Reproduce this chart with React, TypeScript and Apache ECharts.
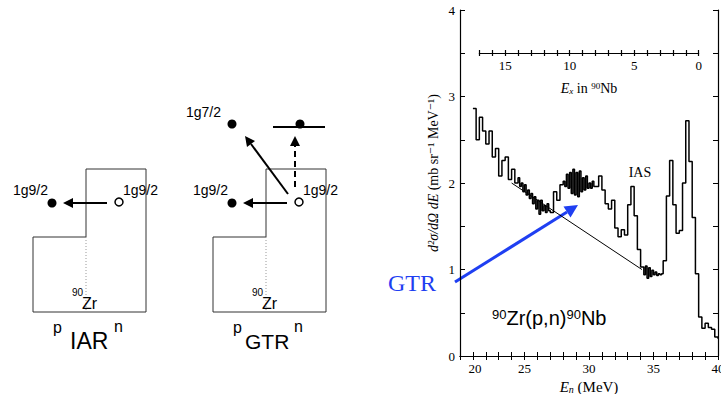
import React, { useEffect, useRef } from "react";
import * as echarts from "echarts";

// ---- data (step histogram, value held from each bin edge to the next) ----
const enBins = [
  21.0, 21.25, 21.5, 21.75, 22.0, 22.25, 22.5, 22.75, 23.0, 23.25, 23.5, 23.75,
  24.0, 24.25, 24.5, 24.625, 24.75, 24.875, 25.0, 25.125, 25.25, 25.375, 25.5, 25.625,
  25.75, 25.875, 26.0, 26.125, 26.25, 26.375, 26.5, 26.625, 26.75, 26.875,
  27.0, 27.25, 27.5, 27.75, 28.0, 28.125, 28.25, 28.375, 28.5, 28.625, 28.75, 28.875,
  29.0, 29.125, 29.25, 29.375, 29.5, 29.625, 29.75, 29.875, 30.0, 30.125, 30.25, 30.375,
  30.5, 30.75, 31.0, 31.25, 31.5, 31.75, 32.0, 32.25, 32.5, 32.75,
  33.0, 33.25, 33.5, 33.75, 34.0, 34.25, 34.375, 34.5, 34.625, 34.75, 34.875,
  35.0, 35.125, 35.25, 35.375, 35.5, 35.625, 35.75,
  36.0, 36.25, 36.5, 36.75, 37.0, 37.25, 37.5, 37.75, 38.0, 38.25, 38.5, 38.75,
  39.0, 39.25, 39.5, 39.75, 40.0,
];
const crossSection = [
  2.86, 2.5, 2.76, 2.6, 2.45, 2.6, 2.3, 2.4, 2.08, 2.26, 2.3, 2.04,
  2.16, 2.0, 2.06, 1.96, 2.0, 1.9, 1.98, 1.86, 1.92, 1.82, 1.88, 1.76,
  1.84, 1.7, 1.8, 1.64, 1.8, 1.68, 1.74, 1.66, 1.76, 1.68,
  1.66, 1.9, 1.8, 1.98, 2.02, 1.96, 2.1, 1.94, 2.12, 1.88, 2.16, 1.86,
  2.12, 1.84, 2.14, 1.9, 2.06, 1.92, 2.08, 1.94, 2.0, 1.94, 2.02, 1.96,
  1.96, 2.08, 1.92, 1.76, 1.7, 1.8, 1.48, 1.38, 1.46, 1.4,
  1.75, 1.96, 1.62, 1.23, 1.03, 0.94, 1.04, 0.9, 1.02, 0.92, 0.99,
  0.94, 0.97, 0.93, 0.95, 0.94, 0.95, 1.1,
  1.85, 2.26, 1.75, 1.42, 1.45, 2.0, 2.72, 2.25, 1.6, 0.95, 0.45, 0.32,
  0.38, 0.33, 0.31, 0.22, 0.2,
];
const bgLineEn = [24.0, 34.1];
const bgLineY = [2.0, 1.0];
const xTickLabels = [20, 25, 30, 35, 40];
const xTicks = [20, 21, 22, 23, 24, 25, 26, 27, 28, 29, 30, 31, 32, 33, 34, 35, 36, 37, 38, 39, 40];
const yTickLabels = [0, 1, 2, 3, 4];
const exTickLabels = [0, 5, 10, 15];
const exTicks = [0, 1, 2, 3, 4, 5, 6, 7, 8, 9, 10, 11, 12, 13, 14, 15, 16, 17];
const EX_ZERO_EN = 38.5; // En at which Ex(90Nb) = 0
const iasMark = [33.95, 2.12];

// ---- layout ----
const GRID_LEFT = 460;
const GRID_TOP = 10;
const GRID_W = 258;
const GRID_H = 346;
const EN_MIN = 20;
const EN_MAX = 40;
const EX_MAX = 17;
const EX_AXIS_Y = 53;

const SERIF = "'Liberation Serif', 'DejaVu Serif', serif";
const SANS = "'Liberation Sans', Arial, sans-serif";
const BLUE = "#1f3ff2";

function t(x: number, y: number, text: string, size: number, extra: any = {}) {
  return {
    type: "text",
    x,
    y,
    silent: true,
    style: {
      text,
      fontSize: size,
      fontFamily: SANS,
      fill: "#000",
      align: "left",
      verticalAlign: "middle",
      textAlign: "left",
      textVerticalAlign: "middle",
      ...extra,
    },
  };
}

function diagram(ox: number, label: string, labelX: number, labelSize: number, isGTR: boolean) {
  const els: any[] = [];
  const s = { fill: "none", stroke: "#333", lineWidth: 1 };
  els.push({
    type: "polygon",
    shape: { points: [[ox, 237], [ox + 53, 237], [ox + 53, 169], [ox + 113, 169], [ox + 113, 312], [ox, 312]] },
    style: s,
  });
  els.push({
    type: "line",
    shape: { x1: ox + 53, y1: 237, x2: ox + 53, y2: 312 },
    style: { stroke: "#999", lineWidth: 1, lineDash: [1, 2] },
  });
  els.push({ type: "circle", shape: { cx: ox + 19, cy: 203, r: 4.5 }, style: { fill: "#000" } });
  els.push({ type: "line", shape: { x1: ox + 74, y1: 203, x2: ox + 38, y2: 203 }, style: { stroke: "#000", lineWidth: 2 } });
  els.push({ type: "polygon", shape: { points: [[ox + 30, 203], [ox + 40, 198], [ox + 40, 208]] }, style: { fill: "#000" } });
  els.push({ type: "circle", shape: { cx: ox + 86, cy: 202, r: 4 }, style: { fill: "#fff", stroke: "#000", lineWidth: 1.5 } });
  els.push(t(ox - 20, 190, "1g9/2", 14));
  els.push(t(ox + 90, 190, "1g9/2", 14));
  els.push(t(ox + 39, 292, "90", 10));
  els.push(t(ox + 49, 303, "Zr", 16));
  els.push(t(ox + 20, 327, "p", 16));
  els.push(t(labelX, 341, label, labelSize));
  els.push(t(ox + 81, 326, "n", 16));
  if (isGTR) {
    els.push({ type: "line", shape: { x1: ox + 75, y1: 194, x2: ox + 38, y2: 144 }, style: { stroke: "#000", lineWidth: 2 } });
    els.push({ type: "polygon", shape: { points: [[ox + 32, 136], [ox + 42, 141], [ox + 34, 147]] }, style: { fill: "#000" } });
    els.push({ type: "circle", shape: { cx: ox + 19, cy: 124, r: 4.5 }, style: { fill: "#000" } });
    els.push(t(ox - 27, 112, "1g7/2", 14));
    els.push({ type: "line", shape: { x1: ox + 82, y1: 187, x2: ox + 82, y2: 146 }, style: { stroke: "#000", lineWidth: 2, lineDash: [6, 4] } });
    els.push({ type: "polygon", shape: { points: [[ox + 82, 136], [ox + 77, 146], [ox + 87, 146]] }, style: { fill: "#000" } });
    els.push({ type: "line", shape: { x1: ox + 60, y1: 127, x2: ox + 112, y2: 127 }, style: { stroke: "#000", lineWidth: 2 } });
    els.push({ type: "circle", shape: { cx: ox + 87, cy: 124, r: 4.5 }, style: { fill: "#000" } });
  }
  return els;
}

export default function App() {
  const ref = useRef<HTMLDivElement>(null);
  useEffect(() => {
    if (!ref.current) return;
    const chart = echarts.init(ref.current, undefined, { renderer: "svg" });
    const pxPerMeV = GRID_W / (EN_MAX - EN_MIN);
    const exRight = GRID_LEFT + (EX_ZERO_EN - EN_MIN) * pxPerMeV;
    const exLeft = GRID_LEFT + (EX_ZERO_EN - EX_MAX - EN_MIN) * pxPerMeV;

    const lbl = { color: "#000", fontFamily: SERIF, fontSize: 13 };
    const frameLine = { show: true, lineStyle: { color: "#000", width: 1.2 } };

    const option: any = {
      animation: false,
      backgroundColor: "#fff",
      grid: [
        { left: GRID_LEFT, top: GRID_TOP, width: GRID_W, height: GRID_H, outerBoundsMode: "none", containLabel: false },
        { left: exLeft, top: EX_AXIS_Y, width: exRight - exLeft, height: 0, outerBoundsMode: "none", containLabel: false },
      ],
      xAxis: [
        {
          type: "value",
          gridIndex: 0,
          min: EN_MIN,
          max: EN_MAX,
          interval: 1,
          position: "bottom",
          axisLine: frameLine,
          axisTick: { inside: true, length: 4, customValues: xTicks, lineStyle: { color: "#000" } },
          axisLabel: {
            ...lbl,
            margin: 6,
            customValues: xTickLabels,
            hideOverlap: false,
            formatter: (v: number) => (v === 20 ? "{shift|20}" : String(v)),
            rich: { shift: { ...lbl, padding: [0, 0, 0, 30] } },
          },
          splitLine: { show: false },
          name: "{i|E}{sub|n} (MeV)",
          nameLocation: "middle",
          nameGap: 20,
          nameTextStyle: {
            ...lbl,
            fontSize: 15,
            rich: {
              i: { fontFamily: SERIF, fontSize: 15, fontStyle: "italic", color: "#000" },
              sub: { fontFamily: SERIF, fontSize: 10, fontStyle: "italic", color: "#000", verticalAlign: "bottom" },
            },
          },
        },
        {
          type: "value",
          gridIndex: 0,
          min: EN_MIN,
          max: EN_MAX,
          interval: 1,
          position: "top",
          axisLine: frameLine,
          axisTick: { inside: true, length: 4, customValues: xTicks, lineStyle: { color: "#000" } },
          axisLabel: { show: false },
          splitLine: { show: false },
        },
        {
          type: "value",
          gridIndex: 1,
          min: 0,
          max: EX_MAX,
          interval: 1,
          inverse: true,
          position: "bottom",
          axisLine: { show: true, lineStyle: { color: "#000", width: 1.2 } },
          axisTick: { inside: true, length: 3, customValues: exTicks, lineStyle: { color: "#000", width: 1.2 } },
          axisLabel: { ...lbl, margin: 6, customValues: exTickLabels },
          splitLine: { show: false },
          name: "{i|E}{sub|x} in {sup|90}Nb",
          nameLocation: "middle",
          nameGap: 28,
          nameTextStyle: {
            ...lbl,
            fontSize: 14,
            rich: {
              i: { fontFamily: SERIF, fontSize: 14, fontStyle: "italic", color: "#000" },
              sub: { fontFamily: SERIF, fontSize: 9, fontStyle: "italic", color: "#000", verticalAlign: "bottom" },
              sup: { fontFamily: SERIF, fontSize: 9, color: "#000", verticalAlign: "top" },
            },
          },
        },
        {
          type: "value",
          gridIndex: 1,
          min: 0,
          max: EX_MAX,
          interval: 1,
          inverse: true,
          position: "bottom",
          axisLine: { show: false },
          axisTick: { inside: false, length: 3, customValues: exTicks, lineStyle: { color: "#000", width: 1.2 } },
          axisLabel: { show: false },
          splitLine: { show: false },
        },
      ],
      yAxis: [
        {
          type: "value",
          gridIndex: 0,
          min: 0,
          max: 4,
          interval: 0.5,
          position: "left",
          axisLine: frameLine,
          axisTick: { inside: true, length: 5, lineStyle: { color: "#000" } },
          axisLabel: { ...lbl, margin: 5, customValues: yTickLabels },
          splitLine: { show: false },
          name: "{i|d²σ/dΩ dE} (mb sr⁻¹ MeV⁻¹)",
          nameLocation: "middle",
          nameRotate: 90,
          nameGap: 20,
          nameTextStyle: {
            ...lbl,
            fontSize: 14,
            padding: [0, 0, 0, 20],
            rich: { i: { fontFamily: SERIF, fontSize: 14, fontStyle: "italic", color: "#000" } },
          },
        },
        {
          type: "value",
          gridIndex: 0,
          min: 0,
          max: 4,
          interval: 0.5,
          position: "right",
          axisLine: frameLine,
          axisTick: { inside: true, length: 5, lineStyle: { color: "#000" } },
          axisLabel: { show: false },
          splitLine: { show: false },
        },
        { type: "value", gridIndex: 1, show: false, min: 0, max: 1 },
      ],
      series: [
        {
          type: "line",
          xAxisIndex: 0,
          yAxisIndex: 0,
          step: "end",
          symbol: "none",
          lineStyle: { color: "#000", width: 1.5 },
          data: enBins.map((e, i) => [e, crossSection[i]]),
          markPoint: {
            symbol: "rect",
            symbolSize: 1,
            itemStyle: { color: "rgba(0,0,0,0)" },
            label: { show: true, position: "inside", formatter: "IAS", color: "#000", fontFamily: SERIF, fontSize: 14 },
            data: [{ coord: iasMark, value: "IAS" }],
          },
        },
        {
          type: "line",
          xAxisIndex: 0,
          yAxisIndex: 0,
          symbol: "none",
          lineStyle: { color: "#000", width: 1 },
          data: bgLineEn.map((e, i) => [e, bgLineY[i]]),
        },
      ],
      graphic: [
        ...diagram(33, "IAR", 70, 23, false),
        ...diagram(213, "GTR", 245, 21, true),
        { type: "line", shape: { x1: 455, y1: 282, x2: 567, y2: 212 }, style: { stroke: BLUE, lineWidth: 3 } },
        { type: "polygon", shape: { points: [[578, 205], [570.5, 217.5], [563.5, 206.5]] }, style: { fill: BLUE } },
        t(388, 283, "GTR", 24, { fontFamily: SERIF, fill: BLUE }),
        {
          type: "text",
          x: 492,
          y: 318,
          style: {
            text: "{sup|90}{m|Zr(p,n)}{sup|90}{m|Nb}",
            align: "left",
            verticalAlign: "middle",
            textAlign: "left",
            textVerticalAlign: "middle",
            rich: {
              m: { fontFamily: SANS, fontSize: 20, fill: "#000", color: "#000" },
              sup: { fontFamily: SANS, fontSize: 13, fill: "#000", color: "#000", verticalAlign: "top" },
            },
          },
        },
      ],
    };
    chart.setOption(option);
    return () => chart.dispose();
  }, []);
  return (
    <div
      ref={ref}
      style={{ position: "fixed", left: 0, top: 0, width: 721, height: 394, background: "#fff" }}
    />
  );
}
